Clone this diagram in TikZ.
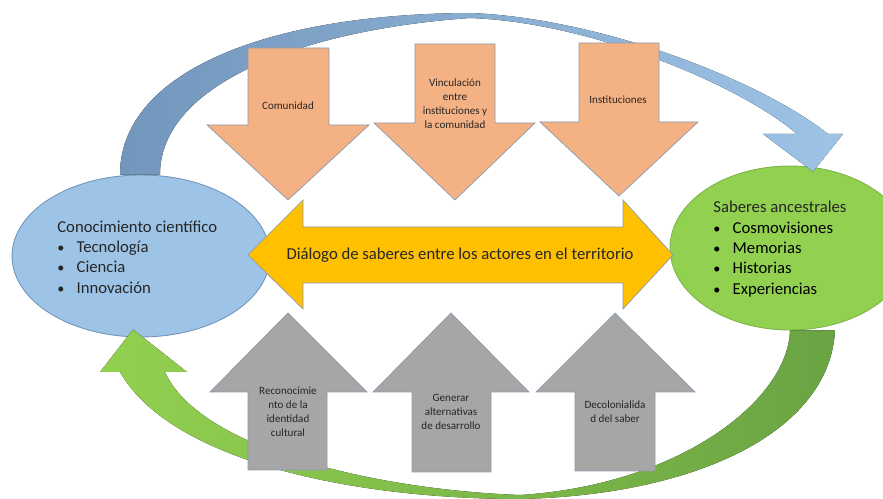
\documentclass[tikz,border=0pt]{standalone}
\usepackage{fontspec}
\setmainfont{Carlito}
\usepackage{tikz}
\usetikzlibrary{shapes.geometric,positioning}

\definecolor{cienblue}{HTML}{9DC3E6}
\definecolor{cienedge}{HTML}{7096BC}
\definecolor{sabgreen}{HTML}{92D050}
\definecolor{sabedge}{HTML}{7DB548}
\definecolor{bluedark}{HTML}{7397BC}
\definecolor{bluelight}{HTML}{9DC3E6}
\definecolor{greenlight}{HTML}{92D050}
\definecolor{greendark}{HTML}{6AA443}
\definecolor{orangefill}{HTML}{F4B183}
\definecolor{grayfill}{HTML}{A6A6A6}
\definecolor{yellowfill}{HTML}{FFC000}
\definecolor{edgegray}{HTML}{8C9BAE}
\definecolor{textdark}{HTML}{262626}

\newcommand{\bitem}[1]{\makebox[11pt][l]{\scalebox{0.85}{\textbullet}}#1}

\begin{document}
\begin{tikzpicture}[
    x=0.02cm, y=-0.02cm,
    ell/.style={ellipse, draw, line width=0.5pt, inner sep=0pt},
    list/.style={font=\fontsize{9.5}{11.6}\selectfont, text=textdark, align=left, inner sep=0pt},
    small/.style={font=\fontsize{6.3}{7.9}\selectfont, text=textdark, align=center, inner sep=0pt},
    downblock/.style={fill=orangefill, draw=edgegray, line width=0.4pt},
    upblock/.style={fill=grayfill, draw=edgegray, line width=0.4pt},
    dialblock/.style={fill=yellowfill, draw=edgegray, line width=0.4pt},
]
    \useasboundingbox (0,0) rectangle (883,499);

    % the two kinds of knowledge
    \node[ell, fill=cienblue, draw=cienedge, minimum width=5.16cm, minimum height=3.24cm] (cien) at (141,256) {};
    \node[ell, fill=sabgreen, draw=sabedge, minimum width=4.8cm, minimum height=3.28cm] (sab) at (790,248) {};

    % curved arrow on top
    \fill[left color=bluedark, right color=bluelight]
        ([xshift=-0.42cm]cien.north) .. controls (120,75) and (260,14) .. (470,13)
        .. controls (600,18) and (760,80) .. (828,134) -- (843,134)
        -- ([xshift=0.46cm,yshift=-0.12cm]sab.north) -- (763,134) -- (797,134)
        .. controls (740,85) and (590,22) .. (470,18)
        .. controls (300,30) and (160,85) .. ([xshift=0.38cm]cien.north) -- cycle;

    % curved arrow at the bottom
    \fill[left color=greenlight, right color=greendark]
        (sab.south) .. controls (788,400) and (680,485) .. (520,495)
        .. controls (380,490) and (200,450) .. (165,372) -- (187,372)
        -- ([xshift=-0.16cm,yshift=0.16cm]cien.south) -- (100,372) -- (120,372)
        .. controls (170,460) and (350,499) .. (520,499)
        .. controls (700,495) and (830,430) .. ([xshift=0.9cm]sab.south) -- cycle;

    % top arrows
    \draw[downblock] (248,48) -- (329,48) -- (329,125) -- (369,125) -- (288,200) -- (207,125) -- (248,125) -- cycle;
    \draw[downblock] (415,44) -- (495,44) -- (495,123) -- (535,123) -- (455,200) -- (374,123) -- (415,123) -- cycle;
    \draw[downblock] (579,43) -- (659,43) -- (659,122) -- (698,122) -- (619,196) -- (540,122) -- (579,122) -- cycle;

    % dialogue arrow
    \draw[dialblock] (248,255) -- (303,200) -- (303,227) -- (623,227) -- (623,200) -- (673,255)
        -- (623,309) -- (623,283) -- (303,283) -- (303,309) -- cycle;

    % bottom arrows
    \draw[upblock] (248,470) -- (248,392) -- (210,392) -- (288,313) -- (367,392) -- (327,392) -- (327,470) -- cycle;
    \draw[upblock] (412,472) -- (412,392) -- (373,392) -- (451,313) -- (529,392) -- (491,392) -- (491,472) -- cycle;
    \draw[upblock] (575,471) -- (575,392) -- (536,392) -- (615,313) -- (695,392) -- (655,392) -- (655,471) -- cycle;

    % texts
    \node[list, anchor=west] (cien-list) at (57,257) {Conocimiento científico\\\bitem{Tecnología}\\\bitem{Ciencia}\\\bitem{Innovación}};
    \node[list, anchor=west] (sab-list) at (713,249) {Saberes ancestrales\\\color{black}\bitem{Cosmovisiones}\\\color{black}\bitem{Memorias}\\\color{black}\bitem{Historias}\\\color{black}\bitem{Experiencias}};
    \node[list] (dialogo) at (460,255) {Diálogo de saberes entre los actores en el territorio};

    \node[small] (comunidad) at (288,106) {Comunidad};
    \node[small] (vinculacion) at (455,104) {Vinculación\\entre\\instituciones y\\la comunidad};
    \node[small] (instituciones) at (618,100) {Instituciones};
    \node[small] (reconocimiento) at (288,412) {Reconocimie\\nto de la\\identidad\\cultural};
    \node[small] (alternativas) at (451,412) {Generar\\alternativas\\de desarrollo};
    \node[small] (decolonialidad) at (615,412) {Decolonialida\\d del saber};
\end{tikzpicture}
\end{document}
